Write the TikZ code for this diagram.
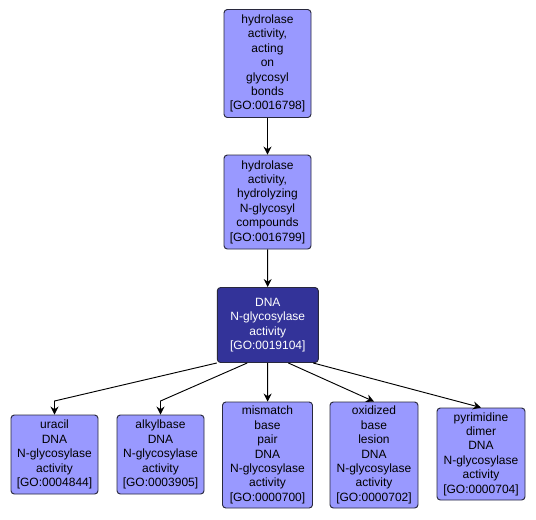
\documentclass[tikz,border=0pt]{standalone}
\usepackage{fontspec}
\setmainfont{Liberation Sans}
\usetikzlibrary{arrows.meta,positioning}

\definecolor{goterm}{RGB}{153,153,255}
\definecolor{goself}{RGB}{51,51,153}
\definecolor{goedge}{RGB}{40,40,60}

\begin{document}
\begin{tikzpicture}[
    x=0.75pt, y=-0.75pt,
    term/.style={rectangle, draw=goedge, fill=goterm, rounded corners=2.5pt, line width=0.7pt,
                 align=center, inner sep=0pt, font=\fontsize{9}{10.8}\selectfont},
    focus/.style={term, fill=goself, text=white},
    link/.style={draw=black, line width=0.7pt, -{Stealth[length=6pt,width=6pt,inset=2pt]}}
]

% canvas
\useasboundingbox[fill=white] (0,0) rectangle (536,519);

% parent terms
\node[term, minimum width=65.25pt, minimum height=81pt] (go16798) at (267.5,63.5)
    {hydrolase\\activity,\\acting\\on\\glycosyl\\bonds\\{[GO:0016798]}};
\node[term, minimum width=65.25pt, minimum height=70.5pt] (go16799) at (267.5,202)
    {hydrolase\\activity,\\hydrolyzing\\N-glycosyl\\compounds\\{[GO:0016799]}};

% the term itself
\node[focus, minimum width=75.75pt, minimum height=56.25pt] (go19104) at (267.8,325)
    {DNA\\N-glycosylase\\activity\\{[GO:0019104]}};

% child terms
\node[term, minimum width=65.25pt, minimum height=59.25pt] (go4844) at (54.5,454.5)
    {uracil\\DNA\\N-glycosylase\\activity\\{[GO:0004844]}};
\node[term, minimum width=65.25pt, minimum height=59.25pt] (go3905) at (160.5,454.5)
    {alkylbase\\DNA\\N-glycosylase\\activity\\{[GO:0003905]}};
\node[term, minimum width=67.5pt, minimum height=79.5pt] (go700) at (267.5,455)
    {mismatch\\base\\pair\\DNA\\N-glycosylase\\activity\\{[GO:0000700]}};
\node[term, minimum width=66pt, minimum height=79.5pt] (go702) at (374,455)
    {oxidized\\base\\lesion\\DNA\\N-glycosylase\\activity\\{[GO:0000702]}};
\node[term, minimum width=66pt, minimum height=69pt] (go704) at (481,454)
    {pyrimidine\\dimer\\DNA\\N-glycosylase\\activity\\{[GO:0000704]}};

% bends
\coordinate (bu) at (54.5,401);
\coordinate (ba) at (160.5,401);

% is_a links
\draw[link] (go16798) -- (go16799);
\draw[link] (go16799) -- (go19104);
\draw[link] (go19104.south west) -- (bu) -- (go4844);
\draw[link] ([xshift=-15.4pt]go19104.south) -- (ba) -- (go3905);
\draw[link] (go19104) -- (go700);
\draw[link] ([xshift=15.4pt]go19104.south) -- (go702.north);
\draw[link] ([xshift=34pt]go19104.south) -- (go704.north);

\end{tikzpicture}
\end{document}
